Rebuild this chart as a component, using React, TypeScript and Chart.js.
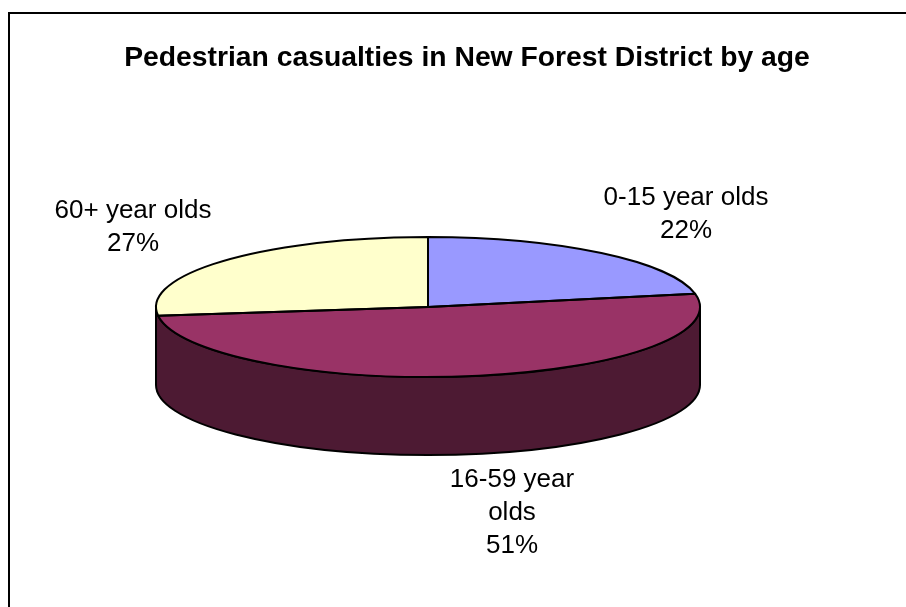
import React, { useEffect, useRef } from "react";
import { Chart, registerables } from "chart.js";

Chart.register(...registerables);

const categories = ["0-15 year olds", "16-59 year olds", "60+ year olds"];
const shares = [22, 51, 27];
const chartTitle = "Pedestrian casualties in New Forest District by age";

const topColors = ["#9999FF", "#993366", "#FFFFCC"];
const wallColor = "#4D1A33";
const labelLines = [["0-15 year olds"], ["16-59 year", "olds"], ["60+ year olds"]];

const FONT = '"Liberation Sans", Arial, sans-serif';
const RADIUS = 272;
const SQUASH = 70 / 272;
const DEPTH = 78;
const LINE_GAP = 33;
const TITLE_SHIFT = 39;
const labelAnchors = [
  { x: 686, y: 198 },
  { x: 512, y: 480 },
  { x: 133, y: 211 },
];

const pie3d = {
  id: "pie3d",
  afterLayout(chart: any) {
    // The title sits to the right of the pie's centre.
    chart.titleBlock.left += TITLE_SHIFT;
    chart.titleBlock.right += TITLE_SHIFT;
  },
  beforeDraw(chart: any) {
    const { ctx } = chart;
    ctx.save();
    ctx.strokeStyle = "#000";
    ctx.lineWidth = 2;
    ctx.strokeRect(9, 13, 2000, 2000);
    ctx.restore();
  },
  beforeDatasetsDraw(chart: any) {
    const { ctx } = chart;
    const arcs = chart.getDatasetMeta(0).data;
    arcs.forEach((arc: any) => {
      const { x, y, startAngle, endAngle, outerRadius } = arc.getProps(
        ["x", "y", "startAngle", "endAngle", "outerRadius"],
        true
      );
      const from = Math.max(startAngle, 0);
      // A sliver of the front that is narrower than the outline is merged into its neighbour.
      const to = Math.min(endAngle, Math.PI);
      if (to - from < 0.2) return;
      const end = Math.PI - to < 0.2 ? Math.PI : to;
      const ry = outerRadius * SQUASH;
      ctx.save();
      ctx.beginPath();
      ctx.ellipse(x, y, outerRadius, ry, 0, from, end);
      ctx.ellipse(x, y + DEPTH, outerRadius, ry, 0, end, from, true);
      ctx.closePath();
      ctx.fillStyle = wallColor;
      ctx.fill();
      ctx.strokeStyle = "#000";
      ctx.lineWidth = 2;
      ctx.stroke();
      ctx.restore();
    });
  },
  beforeDatasetDraw(chart: any) {
    const { ctx } = chart;
    const arc = chart.getDatasetMeta(0).data[0];
    const { x, y } = arc.getProps(["x", "y"], true);
    ctx.save();
    ctx.translate(x, y);
    ctx.scale(1, SQUASH);
    ctx.translate(-x, -y);
  },
  afterDatasetDraw(chart: any) {
    chart.ctx.restore();
  },
  afterDatasetsDraw(chart: any) {
    const { ctx } = chart;
    const arcs = chart.getDatasetMeta(0).data;
    ctx.save();
    ctx.strokeStyle = "#000";
    ctx.lineWidth = 2;
    ctx.lineJoin = "round";
    arcs.forEach((arc: any) => {
      const { x, y, startAngle, endAngle, outerRadius } = arc.getProps(
        ["x", "y", "startAngle", "endAngle", "outerRadius"],
        true
      );
      ctx.beginPath();
      ctx.moveTo(x, y);
      ctx.ellipse(x, y, outerRadius, outerRadius * SQUASH, 0, startAngle, endAngle);
      ctx.closePath();
      ctx.stroke();
    });
    ctx.restore();

    ctx.save();
    ctx.fillStyle = "#000";
    ctx.font = `26px ${FONT}`;
    ctx.textAlign = "center";
    ctx.textBaseline = "middle";
    labelAnchors.forEach((a, i) => {
      const lines = [...labelLines[i], `${shares[i]}%`];
      lines.forEach((t, k) => ctx.fillText(t, a.x, a.y + k * LINE_GAP));
    });
    ctx.restore();
  },
};

export default function App() {
  const ref = useRef<HTMLCanvasElement>(null);
  useEffect(() => {
    const chart = new Chart(ref.current as HTMLCanvasElement, {
      type: "pie",
      data: {
        labels: categories,
        datasets: [
          {
            data: shares,
            backgroundColor: topColors,
            borderWidth: 0,
            radius: RADIUS,
          },
        ],
      },
      options: {
        responsive: false,
        animation: false,
        devicePixelRatio: 1,
        layout: { padding: { left: 0, right: 50, top: 0, bottom: 77 } },
        plugins: {
          legend: { display: false },
          tooltip: { enabled: false },
          title: {
            display: true,
            text: chartTitle,
            color: "#000",
            font: { family: FONT, size: 28.3, weight: "bold" },
            padding: { top: 41, bottom: 9 },
          },
        },
      },
      plugins: [pie3d],
    } as any);
    return () => chart.destroy();
  }, []);
  return (
    <div
      style={{
        position: "fixed",
        left: 0,
        top: 0,
        width: 906,
        height: 607,
        overflow: "hidden",
        background: "#fff",
      }}
    >
      <canvas ref={ref} width={906} height={607} style={{ display: "block" }} />
    </div>
  );
}
